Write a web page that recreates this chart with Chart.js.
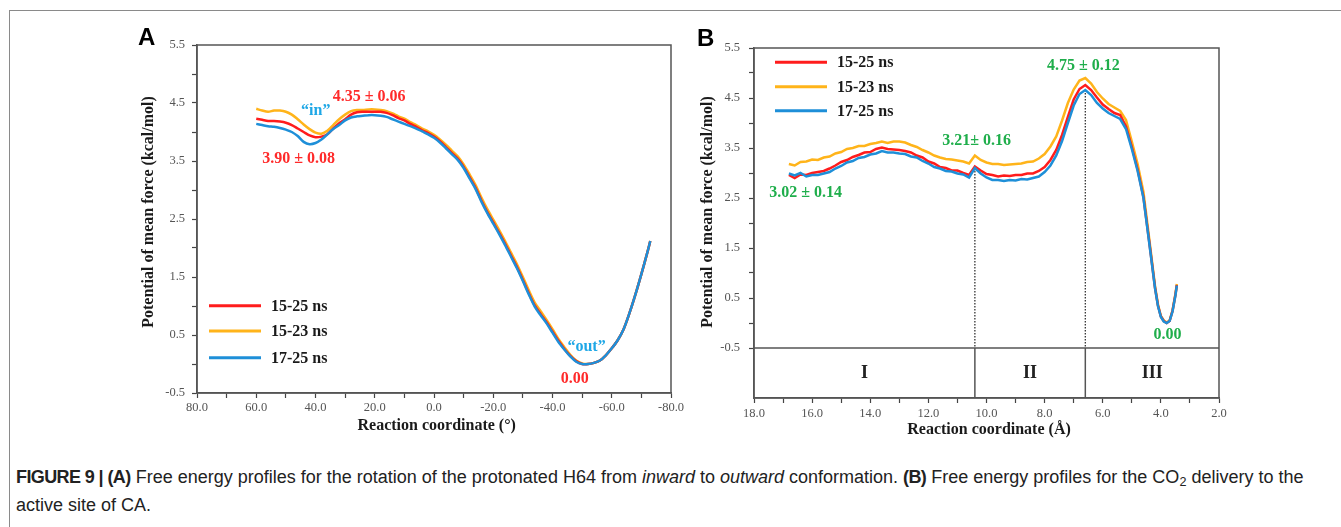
<!DOCTYPE html>
<html><head><meta charset="utf-8">
<script src="https://cdn.jsdelivr.net/npm/chart.js@4.4.1/dist/chart.umd.min.js"></script>
<style>
html,body{margin:0;padding:0;background:#fff;}
body{width:1341px;height:527px;position:relative;overflow:hidden;}
#frameTop{position:absolute;left:9px;top:10px;width:1332px;height:0;border-top:1.5px solid #8a8a8a;}
#frameLeft{position:absolute;left:9px;top:10px;width:0;height:517px;border-left:1.5px solid #8a8a8a;}
canvas{position:absolute;}
#ca{left:130px;top:20px;}
#cb{left:690px;top:20px;}
#caption{position:absolute;left:16px;top:463px;font-family:'Liberation Sans',Arial,sans-serif;font-size:18px;line-height:28px;color:#222;white-space:nowrap;}
#caption b{letter-spacing:-0.6px;}
#caption sub{font-size:70%;line-height:0;vertical-align:-0.25em;}
</style></head><body>
<div id="frameTop"></div><div id="frameLeft"></div>
<canvas id="ca" width="560" height="430"></canvas>
<canvas id="cb" width="560" height="430"></canvas>
<div id="caption"><b>FIGURE 9 | (A)</b> Free energy profiles for the rotation of the protonated H64 from <i>inward</i> to <i>outward</i> conformation. <b>(B)</b> Free energy profiles for the CO<sub>2</sub> delivery to the<br>active site of CA.</div>
<script>
// ---------- DATA ----------
const seriesLabels = ['15-25 ns', '15-23 ns', '17-25 ns'];

// Panel A: rotation angle (deg)
const xA = [60,58,56,54,52,50,48,46,44,42,40,38,36,34,32,30,28,26,24,22,20,18,16,14,12,10,8,6,4,2,0,-2,-4,-6,-8,-10,-12,-14,-16,-18,-20,-22,-24,-26,-28,-30,-32,-34,-36,-38,-40,-42,-44,-46,-48,-50,-52,-54,-56,-58,-60,-62,-64,-66,-68,-70,-72,-73];
const redA = [4.23,4.21,4.19,4.19,4.18,4.16,4.12,4.06,4.00,3.94,3.91,3.92,3.96,4.06,4.15,4.22,4.30,4.34,4.35,4.35,4.35,4.35,4.33,4.29,4.24,4.20,4.14,4.09,4.03,3.98,3.92,3.84,3.74,3.64,3.54,3.40,3.22,3.04,2.82,2.62,2.44,2.26,2.07,1.87,1.67,1.45,1.22,1.01,0.86,0.72,0.56,0.40,0.26,0.14,0.05,0.00,0.00,0.02,0.06,0.15,0.27,0.41,0.60,0.88,1.20,1.55,1.92,2.12];
const yellowA = [4.40,4.37,4.35,4.37,4.37,4.35,4.30,4.22,4.13,4.05,3.99,3.97,4.02,4.12,4.22,4.30,4.36,4.38,4.38,4.39,4.39,4.38,4.36,4.32,4.27,4.23,4.17,4.12,4.06,4.01,3.95,3.87,3.78,3.68,3.58,3.44,3.27,3.09,2.87,2.67,2.49,2.31,2.12,1.92,1.72,1.50,1.27,1.06,0.91,0.76,0.60,0.43,0.29,0.16,0.06,0.01,0.00,0.02,0.06,0.15,0.27,0.41,0.60,0.88,1.20,1.55,1.92,2.12];
const blueA = [4.14,4.12,4.10,4.09,4.07,4.04,4.00,3.93,3.83,3.79,3.81,3.87,3.96,4.05,4.12,4.20,4.25,4.27,4.28,4.29,4.29,4.28,4.26,4.22,4.18,4.14,4.10,4.06,4.01,3.96,3.90,3.82,3.72,3.62,3.52,3.38,3.20,3.02,2.80,2.60,2.42,2.24,2.05,1.85,1.65,1.43,1.20,0.99,0.84,0.70,0.54,0.38,0.25,0.13,0.04,0.00,0.00,0.02,0.06,0.15,0.27,0.41,0.60,0.88,1.20,1.55,1.92,2.12];
const yTickLabelsA = ['-0.5','0.5','1.5','2.5','3.5','4.5','5.5'];
const xTickLabelsA = ['80.0','60.0','40.0','20.0','0.0','-20.0','-40.0','-60.0','-80.0'];
const annotTextA = ['4.35 ± 0.06', '3.90 ± 0.08', '“in”', '“out”', '0.00'];

// Panel B: CO2 distance (Å)
const xB = [16.8,16.6,16.4,16.2,16.0,15.8,15.6,15.4,15.2,15.0,14.8,14.6,14.4,14.2,14.0,13.8,13.6,13.4,13.2,13.0,12.8,12.6,12.4,12.2,12.0,11.8,11.6,11.4,11.2,11.0,10.8,10.6,10.4,10.2,10.0,9.8,9.6,9.4,9.2,9.0,8.8,8.6,8.4,8.2,8.0,7.8,7.6,7.4,7.2,7.0,6.8,6.6,6.4,6.2,6.0,5.8,5.6,5.4,5.2,5.0,4.8,4.6,4.4,4.2,4.1,4.0,3.9,3.8,3.7,3.6,3.5,3.45];
const redB = [2.96,2.90,2.97,2.96,3.00,3.02,3.04,3.09,3.15,3.22,3.26,3.32,3.36,3.41,3.42,3.48,3.51,3.48,3.47,3.46,3.44,3.41,3.35,3.31,3.23,3.19,3.12,3.10,3.05,3.05,3.00,2.96,3.13,3.05,2.98,2.96,2.93,2.95,2.94,2.96,2.96,2.99,2.99,3.04,3.12,3.26,3.46,3.76,4.12,4.47,4.68,4.76,4.66,4.51,4.37,4.28,4.20,4.16,3.93,3.52,3.07,2.52,1.62,0.70,0.35,0.13,0.04,0.00,0.04,0.24,0.56,0.76];
const yellowB = [3.18,3.15,3.22,3.23,3.27,3.26,3.31,3.33,3.39,3.42,3.48,3.50,3.54,3.54,3.58,3.60,3.63,3.60,3.63,3.63,3.61,3.56,3.52,3.46,3.41,3.35,3.31,3.28,3.27,3.25,3.23,3.19,3.35,3.26,3.21,3.18,3.18,3.16,3.17,3.18,3.19,3.22,3.23,3.29,3.38,3.53,3.73,4.05,4.40,4.67,4.85,4.90,4.79,4.62,4.49,4.38,4.31,4.24,4.06,3.63,3.18,2.62,1.68,0.73,0.37,0.14,0.05,0.01,0.05,0.25,0.58,0.78];
const blueB = [2.99,2.95,3.00,2.93,2.96,2.96,2.99,3.02,3.09,3.14,3.21,3.24,3.30,3.32,3.37,3.39,3.44,3.41,3.41,3.39,3.38,3.33,3.31,3.24,3.19,3.12,3.09,3.04,3.03,2.99,2.97,2.91,3.10,2.99,2.91,2.86,2.86,2.84,2.86,2.85,2.88,2.87,2.90,2.93,3.02,3.15,3.35,3.64,4.00,4.35,4.58,4.66,4.56,4.40,4.29,4.20,4.14,4.08,3.88,3.48,3.04,2.50,1.60,0.69,0.34,0.12,0.03,0.00,0.04,0.23,0.55,0.75];
const yTickLabelsB = ['-0.5','0.5','1.5','2.5','3.5','4.5','5.5'];
const xTickLabelsB = ['18.0','16.0','14.0','12.0','10.0','8.0','6.0','4.0','2.0'];
const annotTextB = ['3.02 ± 0.14', '3.21± 0.16', '4.75 ± 0.12', '0.00'];
const regionsB = ['I', 'II', 'III'];
const dividersB = [10.4, 6.6];

// ---------- STYLE ----------
const serif = "'Liberation Serif','Times New Roman',serif";
const colors = ['#ff1c1c', '#ffb41a', '#1e8fd8'];
const drawOrder = [1, 2, 0];

function pts(xs, ys) { return xs.map((x, i) => ({x: x, y: ys[i]})); }
function mkDatasets(xs, arrs, tension) {
  return arrs.map((a, i) => ({
    label: seriesLabels[i], data: pts(xs, a), borderColor: colors[i],
    backgroundColor: colors[i], borderWidth: 2.5, pointRadius: 0,
    tension: tension, fill: false, order: drawOrder[i]
  }));
}
function tickFont() { return {family: serif, size: 12.5}; }

function frame(chart) {
  const {ctx, chartArea: a} = chart;
  ctx.save(); ctx.strokeStyle = '#555'; ctx.lineWidth = 1.5;
  ctx.strokeRect(a.left, a.top, a.right - a.left, a.bottom - a.top);
  ctx.restore();
}
function legend(chart, x0, ys) {
  const ctx = chart.ctx;
  ctx.save();
  ctx.font = 'bold 16px ' + serif; ctx.textBaseline = 'middle'; ctx.textAlign = 'left';
  seriesLabels.forEach((lab, i) => {
    ctx.strokeStyle = colors[i]; ctx.lineWidth = 3;
    ctx.beginPath(); ctx.moveTo(x0, ys[i]); ctx.lineTo(x0 + 52, ys[i]); ctx.stroke();
    ctx.fillStyle = '#1a1a1a'; ctx.fillText(lab, x0 + 62, ys[i] + 1);
  });
  ctx.restore();
}
function text(ctx, s, x, y, font, color, align, base) {
  ctx.save(); ctx.font = font; ctx.fillStyle = color;
  ctx.textAlign = align || 'center'; ctx.textBaseline = base || 'middle';
  ctx.fillText(s, x, y); ctx.restore();
}
function vtitle(ctx, s, x, y) {
  ctx.save(); ctx.translate(x, y); ctx.rotate(-Math.PI / 2);
  ctx.font = 'bold 16px ' + serif; ctx.fillStyle = '#1a1a1a';
  ctx.textAlign = 'center'; ctx.textBaseline = 'middle';
  ctx.fillText(s, 0, 0); ctx.restore();
}

// ---------- CHART A ----------
const plugA = {
  id: 'decoA',
  afterDraw(chart) {
    const ctx = chart.ctx, sx = chart.scales.x, sy = chart.scales.y;
    frame(chart);
    legend(chart, 79, [285.7, 311, 337.7]);
    const red = '#ff2a2a', lb = '#1ea7e6';
    const bf = 'bold 16px ' + serif;
    text(ctx, annotTextA[0], sx.getPixelForValue(21.9), sy.getPixelForValue(4.61), bf, red);
    text(ctx, annotTextA[1], sx.getPixelForValue(45.7), sy.getPixelForValue(3.54), bf, red);
    text(ctx, annotTextA[2], sx.getPixelForValue(39.9), sy.getPixelForValue(4.36), bf, lb);
    text(ctx, annotTextA[3], sx.getPixelForValue(-51.5), sy.getPixelForValue(0.29), bf, lb);
    text(ctx, annotTextA[4], sx.getPixelForValue(-47.5), sy.getPixelForValue(-0.26), bf, red);
    vtitle(ctx, 'Potential of mean force (kcal/mol)', 19, 192);
    text(ctx, 'Reaction coordinate (°)', 306.7, 406, bf, '#1a1a1a');
    text(ctx, 'A', 8, 25, 'bold 24px "Liberation Sans", Arial, sans-serif', '#000', 'left', 'alphabetic');
  }
};
new Chart(document.getElementById('ca'), {
  type: 'line',
  data: {datasets: mkDatasets(xA, [redA, yellowA, blueA], 0.3)},
  options: {
    responsive: false, animation: false,
    layout: {padding: {top: 25, right: 19, bottom: 0, left: 0}},
    plugins: {legend: {display: false}, tooltip: {enabled: false}},
    scales: {
      x: {
        type: 'linear', min: -80, max: 80, reverse: true,
        ticks: {stepSize: 10, autoSkip: false, maxRotation: 0, padding: 2, color: '#555', font: tickFont(),
          callback: v => xTickLabelsA.includes(Number(v).toFixed(1)) ? Number(v).toFixed(1) : ''},
        grid: {drawOnChartArea: false, drawTicks: true, tickLength: 5, tickColor: '#444', tickWidth: 1.2},
        border: {display: true, color: '#555', width: 1.5},
        afterFit: s => { s.height = 57; }
      },
      y: {
        type: 'linear', min: -0.5, max: 5.5,
        ticks: {stepSize: 0.5, autoSkip: false, padding: 7, color: '#555', font: tickFont(),
          callback: v => yTickLabelsA.includes(Number(v).toFixed(1)) ? Number(v).toFixed(1) : ''},
        grid: {drawOnChartArea: false, drawTicks: true, tickLength: 5, tickColor: '#444', tickWidth: 1.2},
        border: {display: true, color: '#555', width: 1.5},
        afterFit: s => { s.width = 67; }
      }
    }
  },
  plugins: [plugA]
});

// ---------- CHART B ----------
const plugB = {
  id: 'decoB',
  beforeDatasetsDraw(chart) {
    const ctx = chart.ctx, sx = chart.scales.x, sy = chart.scales.y, a = chart.chartArea;
    const yl = sy.getPixelForValue(-0.5);
    ctx.save();
    ctx.strokeStyle = '#555'; ctx.lineWidth = 1.5;
    ctx.beginPath(); ctx.moveTo(a.left, yl); ctx.lineTo(a.right, yl); ctx.stroke();
    dividersB.forEach(d => {
      const px = sx.getPixelForValue(d);
      ctx.setLineDash([]); ctx.strokeStyle = '#555'; ctx.lineWidth = 1.5;
      ctx.beginPath(); ctx.moveTo(px, yl); ctx.lineTo(px, a.bottom); ctx.stroke();
      const idx = xB.indexOf(d);
      const top = sy.getPixelForValue(blueB[idx]);
      ctx.setLineDash([1.5, 1.5]); ctx.strokeStyle = '#333'; ctx.lineWidth = 1.3;
      ctx.beginPath(); ctx.moveTo(px, top); ctx.lineTo(px, yl); ctx.stroke();
    });
    ctx.restore();
  },
  afterDraw(chart) {
    const ctx = chart.ctx, sx = chart.scales.x, sy = chart.scales.y;
    frame(chart);
    legend(chart, 85, [42.3, 66.7, 90.7]);
    const green = '#1fae4b';
    const bf = 'bold 16px ' + serif;
    text(ctx, annotTextB[0], sx.getPixelForValue(16.22), sy.getPixelForValue(2.61), bf, green);
    text(ctx, annotTextB[1], sx.getPixelForValue(10.34), sy.getPixelForValue(3.64), bf, green);
    text(ctx, annotTextB[2], sx.getPixelForValue(6.67), sy.getPixelForValue(5.15), bf, green);
    text(ctx, annotTextB[3], sx.getPixelForValue(3.77), sy.getPixelForValue(-0.24), bf, green);
    const bounds = [18, dividersB[0], dividersB[1], 2];
    regionsB.forEach((r, i) => {
      const cx = (bounds[i] + bounds[i + 1]) / 2;
      text(ctx, r, sx.getPixelForValue(cx), sy.getPixelForValue(-1.0), 'bold 18px ' + serif, '#222');
    });
    vtitle(ctx, 'Potential of mean force (kcal/mol)', 18, 192);
    text(ctx, 'Reaction coordinate (Å)', 299, 410, bf, '#1a1a1a');
    text(ctx, 'B', 7, 26, 'bold 24px "Liberation Sans", Arial, sans-serif', '#000', 'left', 'alphabetic');
  }
};
new Chart(document.getElementById('cb'), {
  type: 'line',
  data: {datasets: mkDatasets(xB, [redB, yellowB, blueB], 0)},
  options: {
    responsive: false, animation: false,
    layout: {padding: {top: 28, right: 31, bottom: 0, left: 0}},
    plugins: {legend: {display: false}, tooltip: {enabled: false}},
    scales: {
      x: {
        type: 'linear', min: 2, max: 18, reverse: true,
        ticks: {stepSize: 1, autoSkip: false, maxRotation: 0, padding: 3, color: '#555', font: tickFont(),
          callback: v => xTickLabelsB.includes(Number(v).toFixed(1)) ? Number(v).toFixed(1) : ''},
        grid: {drawOnChartArea: false, drawTicks: true, tickLength: 5, tickColor: '#444', tickWidth: 1.2},
        border: {display: true, color: '#555', width: 1.5},
        afterFit: s => { s.height = 52; }
      },
      y: {
        type: 'linear', min: -1.5, max: 5.5,
        ticks: {stepSize: 0.5, autoSkip: false, padding: 9, color: '#555', font: tickFont(),
          callback: v => yTickLabelsB.includes(Number(v).toFixed(1)) ? Number(v).toFixed(1) : ''},
        grid: {drawOnChartArea: false, drawTicks: true, tickLength: 5, tickWidth: 1.2,
          tickColor: c => (c.tick && c.tick.value < -0.5) ? 'rgba(0,0,0,0)' : '#444'},
        border: {display: true, color: '#555', width: 1.5},
        afterFit: s => { s.width = 64; }
      }
    }
  },
  plugins: [plugB]
});
</script>
</body></html>
